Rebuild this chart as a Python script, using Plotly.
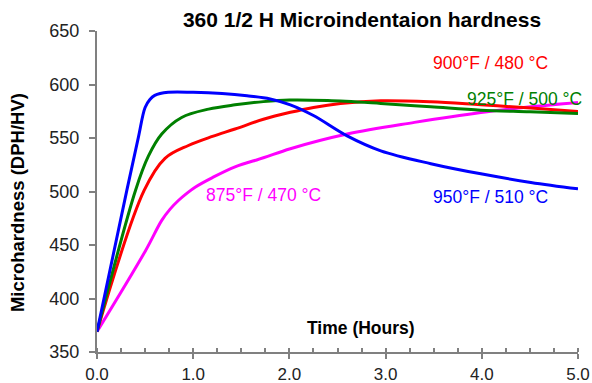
import plotly.graph_objects as go

# ---- data ----
t_950 = [0, 0.31, 0.43, 0.5, 0.55, 0.6, 0.74, 1.0, 1.3, 1.56, 1.8, 2.01, 2.25, 2.6, 2.95, 3.47, 3.99, 4.51, 5.0]
v_950 = [369, 501, 550.6, 578.5, 586, 589.8, 592.7, 592.7, 591.6, 589.5, 586.5, 581, 571, 552, 538, 526, 516.5, 508.5, 502.5]

t_925 = [0, 0.4, 0.534, 0.673, 0.88, 1.16, 1.435, 1.73, 2.0, 2.4, 2.95, 3.47, 3.99, 4.5, 5.0]
v_925 = [369, 501, 533, 553.7, 569.2, 577, 581, 584, 585.5, 585, 582.3, 579.2, 576, 574.5, 573]

t_900 = [0, 0.49, 0.707, 0.95, 1.2, 1.435, 1.73, 2.01, 2.25, 2.53, 2.95, 3.47, 3.99, 4.51, 5.0]
v_900 = [369, 501, 531, 543, 551.5, 558.4, 567.5, 574, 578.6, 582.3, 584.8, 583.8, 581, 578, 574.8]

t_875 = [0, 0.5, 0.673, 0.76, 0.846, 0.93, 1.02, 1.2, 1.435, 1.73, 2.01, 2.6, 3.3, 3.99, 4.51, 5.0]
v_875 = [369, 444, 473, 483.5, 491.6, 498, 504, 513, 523, 531.5, 540, 553.7, 564.6, 573.9, 579.2, 583.2]

series_names = ["875°F / 470 °C", "900°F / 480 °C", "925°F / 500 °C", "950°F / 510 °C"]
series_colors = ["#FF00FF", "#FF0000", "#008000", "#0000FF"]
label_pos = [(1.73, 496.7), (4.09, 620.5), (4.44, 586.4), (4.09, 495.3)]

x_ticks = [0, 1, 2, 3, 4, 5]
x_tick_text = ["0.0", "1.0", "2.0", "3.0", "4.0", "5.0"]
y_ticks = [350, 400, 450, 500, 550, 600, 650]

title_text = "360 1/2 H Microindentaion hardness"
x_title = "Time (Hours)"
y_title = "Microhardness (DPH/HV)"

FONT = "Liberation Sans, Arial, sans-serif"

fig = go.Figure()
data = [(t_875, v_875), (t_900, v_900), (t_925, v_925), (t_950, v_950)]
for (tx, vy), name, col in zip(data, series_names, series_colors):
    fig.add_trace(go.Scatter(x=tx, y=vy, mode="lines", name=name,
                             line=dict(color=col, width=3, shape="spline", smoothing=1.0),
                             showlegend=False, hoverinfo="skip"))

for name, col, (lx, ly) in zip(series_names, series_colors, label_pos):
    fig.add_annotation(x=lx, y=ly, xref="x", yref="y", text=name, showarrow=False,
                       font=dict(family=FONT, size=17.5, color=col),
                       xanchor="center", yanchor="middle")

fig.add_annotation(x=2.74, y=372.8, xref="x", yref="y", text="<b>" + x_title + "</b>",
                   showarrow=False, font=dict(family=FONT, size=17.5, color="#000"),
                   xanchor="center", yanchor="middle")

fig.add_annotation(x=-0.1664, y=0.467, xref="paper", yref="paper", text="<b>" + y_title + "</b>",
                   showarrow=False, textangle=-90, font=dict(family=FONT, size=18.5, color="#000"),
                   xanchor="center", yanchor="middle")

fig.update_layout(
    width=592, height=383,
    margin=dict(l=97, r=14, t=31, b=31, autoexpand=False),
    paper_bgcolor="white", plot_bgcolor="white",
    title=dict(text="<b>" + title_text + "</b>", x=0.551, xref="paper", xanchor="center",
               y=1 - 20 / 383, yref="container", yanchor="middle",
               font=dict(family=FONT, size=21, color="#000")),
    font=dict(family=FONT),
)

fig.update_xaxes(range=[0, 5], tickvals=x_ticks, ticktext=x_tick_text, automargin=False,
                 showgrid=False, zeroline=False, showline=True, linecolor="#808080", linewidth=2,
                 ticks="outside", ticklen=5, tickcolor="#808080", tickwidth=1.5,
                 ticklabelstandoff=1,
                 tickfont=dict(family=FONT, size=17, color="#222"),
                 minor=dict(dtick=0.25, tick0=0, ticks="inside", ticklen=4,
                            tickcolor="#808080", tickwidth=1.5, showgrid=False))
fig.update_yaxes(range=[350, 650], tickvals=y_ticks, automargin=False,
                 showgrid=False, zeroline=False, showline=True, linecolor="#808080", linewidth=2,
                 ticks="outside", ticklen=6, tickcolor="#808080", tickwidth=1.5,
                 ticklabelstandoff=6,
                 tickfont=dict(family=FONT, size=18, color="#222"))

fig.write_html("out.html")
